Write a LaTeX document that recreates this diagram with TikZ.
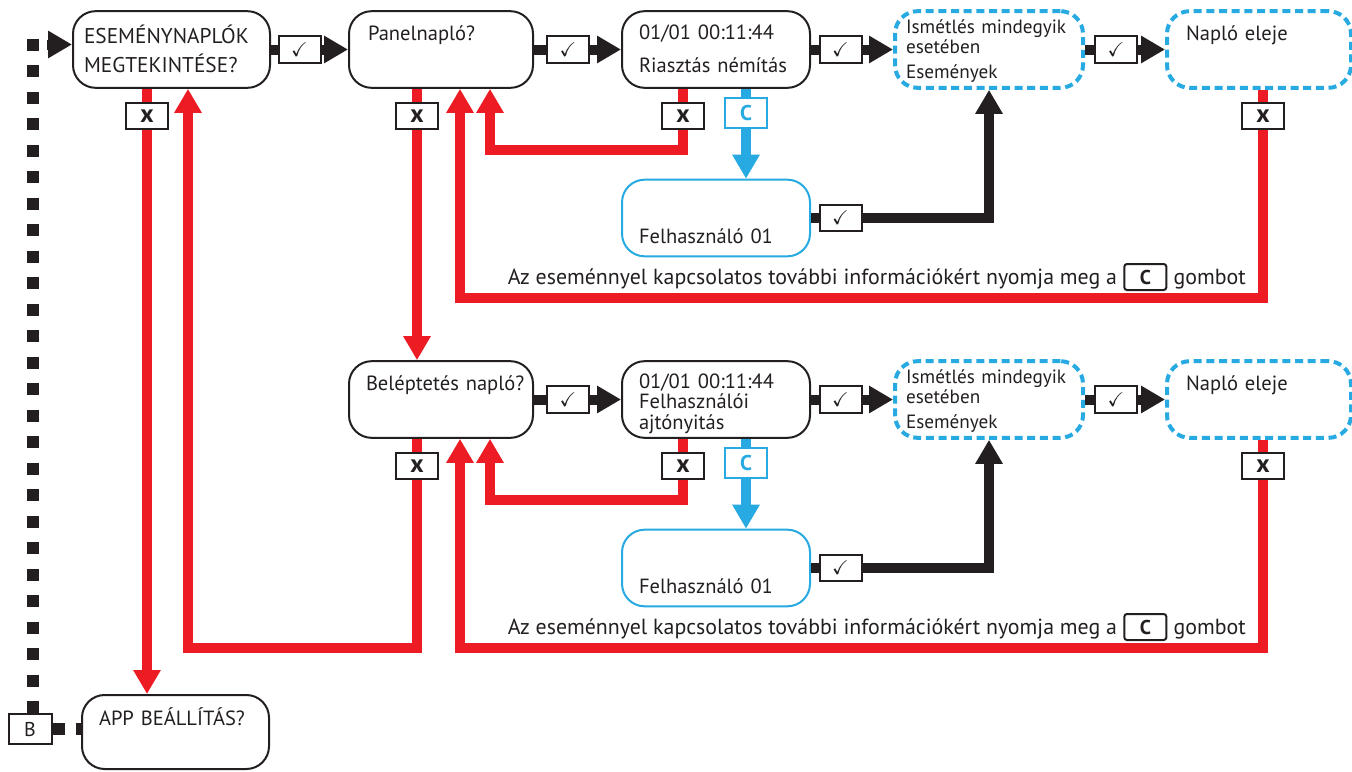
\documentclass[tikz,border=0pt]{standalone}
\usepackage{fontspec}
\usepackage{amssymb}
\setmainfont{PT Sans}
\usetikzlibrary{arrows.meta,positioning}

\definecolor{ered}{RGB}{237,28,36}
\definecolor{eblue}{RGB}{39,170,225}
\definecolor{eblack}{RGB}{35,31,32}

\tikzset{every picture/.style={line width=1.5pt}}
\tikzset{
  menubox/.style={draw=eblack, line width=1.5pt, rounded corners=17pt, minimum width=141pt, minimum height=57.5pt, inner sep=0pt},
  userbox/.style={menubox, draw=eblue},
  repbox/.style={menubox, draw=eblue, line width=3pt, dash pattern=on 6pt off 3.5pt},
  boxtext/.style={anchor=base west, inner sep=0pt, text width=150pt, align=left, text=eblack, font=\fontsize{15.4}{21}\selectfont},
  hinttext/.style={inner sep=0pt, text=eblack, font=\fontsize{16.4}{16.4}\selectfont},
  okkey/.style={draw=eblack, fill=white, line width=1.5pt, minimum width=31.5pt, minimum height=20pt, inner sep=0pt, text=eblack, font=\fontsize{15}{15}\selectfont},
  nokey/.style={okkey, font=\fontsize{19}{19}\selectfont\bfseries},
  ckey/.style={okkey, draw=eblue, text=eblue, minimum height=22.5pt, font=\fontsize{16}{16}\selectfont\bfseries},
  hintkey/.style={okkey, rounded corners=2pt, minimum height=19.5pt, font=\fontsize{15}{15}\selectfont\bfseries},
  yesline/.style={draw=eblack, line width=7.5pt},
  noline/.style={draw=ered, line width=7.5pt},
  cline/.style={draw=eblue, line width=7.5pt},
  dotline/.style={draw=eblack, line width=9pt, dash pattern=on 9pt off 10.875pt},
  >={Triangle[width=19.5pt,length=18pt]},
}

\begin{document}
\begin{tikzpicture}[x=0.75pt,y=0.75pt,yscale=-1,xscale=1]
	\useasboundingbox (0,0) rectangle (1352,771);

	%Shape: Rounded Rect [id:evt]
	\node[menubox, minimum width=147.75pt] (evt) at (171.5,49.5) {};
	\node[menubox, minimum width=138pt] (pan) at (441,49.5) {};
	\node[menubox] (rsz) at (716,49.5) {};
	\node[repbox] (ism1) at (989,49.5) {};
	\node[repbox, minimum width=138pt] (nel1) at (1259,49.5) {};
	\node[userbox] (usr1) at (716,218) {};
	%Shape: Rounded Rect [id:bel]
	\node[menubox, minimum width=138pt] (bel) at (441,399.5) {};
	\node[menubox] (ajt) at (716,399.5) {};
	\node[repbox] (ism2) at (989,399.5) {};
	\node[repbox, minimum width=138pt] (nel2) at (1259,399.5) {};
	\node[userbox] (usr2) at (716,568) {};
	%Shape: Rounded Rect [id:app]
	\node[menubox, minimum width=140.25pt, minimum height=55.5pt] (app) at (175.5,732) {};

	%Shape: Keys
	\node[okkey] (ck1) at (299.5,49.5) {$\checkmark$};
	\node[okkey] (ck2) at (568,49.5) {$\checkmark$};
	\node[okkey] (ck3) at (840.5,49.5) {$\checkmark$};
	\node[okkey] (ck4) at (1116,49.5) {$\checkmark$};
	\node[okkey] (ck5) at (840.5,218) {$\checkmark$};
	\node[okkey] (ck6) at (568,399.5) {$\checkmark$};
	\node[okkey] (ck7) at (840.5,399.5) {$\checkmark$};
	\node[okkey] (ck8) at (1116,399.5) {$\checkmark$};
	\node[okkey] (ck9) at (840.5,568) {$\checkmark$};
	\node[nokey] (xa) at (147,116) {x};
	\node[nokey] (xb) at (417,116) {x};
	\node[nokey] (xc) at (683,116) {x};
	\node[nokey] (xe) at (1263,116) {x};
	\node[nokey] (xbel) at (417,466) {x};
	\node[nokey] (xajt) at (683,466) {x};
	\node[nokey] (xnel) at (1263,466) {x};
	\node[ckey] (cb1) at (746,113) {C};
	\node[ckey] (cb2) at (746,463) {C};
	\node[okkey, minimum width=32.25pt, minimum height=22.5pt] (bkey) at (30,729) {B};

	\coordinate (lpa) at (188,648);
	\coordinate (lpc1) at (490,150);
	\coordinate (lpe1) at (460,298);
	\coordinate (lpc2) at (490,500);
	\coordinate (lpe2) at (460,648);
	\coordinate (dtop) at (33,38.5);
	\coordinate (darr) at (47,44.5);

	%Straight Lines [id:yes]
	\draw[yesline] (evt.east) -- (ck1.west);
	\draw[yesline,->] (ck1.east) -- (pan.west);
	\draw[yesline] (pan.east) -- (ck2.west);
	\draw[yesline,->] (ck2.east) -- (rsz.west);
	\draw[yesline] (rsz.east) -- (ck3.west);
	\draw[yesline,->] (ck3.east) -- (ism1.west);
	\draw[yesline] (ism1.east) -- (ck4.west);
	\draw[yesline,->] (ck4.east) -- (nel1.west);
	\draw[yesline] (usr1.east) -- (ck5.west);
	\draw[yesline,->] (ck5.east) -| (ism1.south);
	\draw[yesline] (bel.east) -- (ck6.west);
	\draw[yesline,->] (ck6.east) -- (ajt.west);
	\draw[yesline] (ajt.east) -- (ck7.west);
	\draw[yesline,->] (ck7.east) -- (ism2.west);
	\draw[yesline] (ism2.east) -- (ck8.west);
	\draw[yesline,->] (ck8.east) -- (nel2.west);
	\draw[yesline] (usr2.east) -- (ck9.west);
	\draw[yesline,->] (ck9.east) -| (ism2.south);

	%Straight Lines [id:no]
	\draw[noline] (xa |- evt.south) -- (xa.north);
	\draw[noline,->] (xa.south) -- (xa |- app.north);
	\draw[noline] (xb |- pan.south) -- (xb.north);
	\draw[noline,->] (xb.south) -- (xb |- bel.north);
	\draw[noline] (xc |- rsz.south) -- (xc.north);
	\draw[noline,->] (xc.south) |- (lpc1) -- (lpc1 |- pan.south);
	\draw[noline] (xe |- nel1.south) -- (xe.north);
	\draw[noline,->] (xe.south) |- (lpe1) -- (lpe1 |- pan.south);
	\draw[noline] (xbel |- bel.south) -- (xbel.north);
	\draw[noline,->] (xbel.south) |- (lpa) -- (lpa |- evt.south);
	\draw[noline] (xajt |- ajt.south) -- (xajt.north);
	\draw[noline,->] (xajt.south) |- (lpc2) -- (lpc2 |- bel.south);
	\draw[noline] (xnel |- nel2.south) -- (xnel.north);
	\draw[noline,->] (xnel.south) |- (lpe2) -- (lpe2 |- bel.south);

	%Straight Lines [id:c]
	\draw[cline] (cb1 |- rsz.south) -- (cb1.north);
	\draw[cline,->] (cb1.south) -- (cb1 |- usr1.north);
	\draw[cline] (cb2 |- ajt.south) -- (cb2.north);
	\draw[cline,->] (cb2.south) -- (cb2 |- usr2.north);

	%Dotted Lines [id:b]
	\draw[dotline] (dtop) -- (dtop |- bkey.north);
	\draw[yesline,->] (darr) -- (darr -| evt.west);
	\draw[dotline, dash pattern=on 9pt off 8.25pt] (bkey.east) -- (bkey.east -| app.west);

	% Text Node
	\node[boxtext, font=\fontsize{16}{21.75}\selectfont] (evttxt) at (83,43) {ESEMÉNYNAPLÓK\\MEGTEKINTÉSE?};
	% Text Node
	\node[boxtext] (pantxt) at (367,40) {Panelnapló?};
	% Text Node
	\node[boxtext, font=\fontsize{15.4}{24.75}\selectfont] (rsztxt) at (638,39) {01/01 00:11:44\\Riasztás némítás};
	% Text Node
	\node[boxtext, font=\fontsize{14.4}{15}\selectfont] (ism1txt) at (905,33) {Ismétlés mindegyik\\esetében\\[3.75pt]Események};
	% Text Node
	\node[boxtext] (nel1txt) at (1185,40) {Napló eleje};
	% Text Node
	\node[boxtext] (usr1txt) at (638,243) {Felhasználó 01};
	% Text Node
	\node[boxtext] (beltxt) at (365,390) {Beléptetés napló?};
	% Text Node
	\node[boxtext, font=\fontsize{15.4}{15.5}\selectfont] (ajttxt) at (638,388) {01/01 00:11:44\\Felhasználói\\ajtónyitás};
	% Text Node
	\node[boxtext, font=\fontsize{14.4}{15}\selectfont] (ism2txt) at (905,383) {Ismétlés mindegyik\\esetében\\[3.75pt]Események};
	% Text Node
	\node[boxtext] (nel2txt) at (1185,390) {Napló eleje};
	% Text Node
	\node[boxtext] (usr2txt) at (638,593) {Felhasználó 01};
	% Text Node
	\node[boxtext] (apptxt) at (98,725) {APP BEÁLLÍTÁS?};

	% Text Node
	\node[hinttext, anchor=base east] (hint1) at (1118,284) {Az eseménnyel kapcsolatos további információkért nyomja meg a};
	\node[hintkey, base right=4pt of hint1] (hkey1) {C};
	\node[hinttext, base right=4pt of hkey1] (gomb1) {gombot};
	% Text Node
	\node[hinttext, anchor=base east] (hint2) at (1118,634) {Az eseménnyel kapcsolatos további információkért nyomja meg a};
	\node[hintkey, base right=4pt of hint2] (hkey2) {C};
	\node[hinttext, base right=4pt of hkey2] (gomb2) {gombot};

\end{tikzpicture}
\end{document}
